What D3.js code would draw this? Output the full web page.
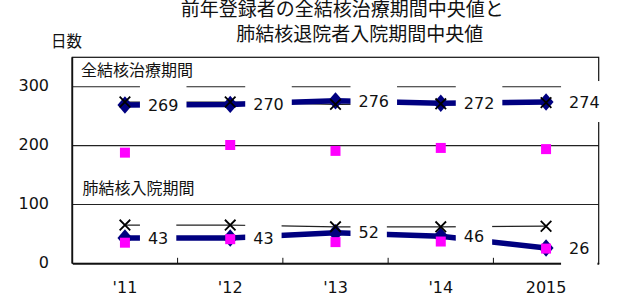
<!DOCTYPE html>
<html><head><meta charset="utf-8">
<script src="https://cdn.jsdelivr.net/npm/d3@7"></script>
<style>html,body{margin:0;padding:0;background:#fff;overflow:hidden}</style>
</head><body>
<svg id="c" width="630" height="293"></svg>
<script>
const categories = ["'11", "'12", "'13", "'14", "2015"];
// 全結核治療期間
const treatMedian = [269, 270, 276, 272, 274];
const treatCross  = [274, 274, 270, 271, 273];
const treatSquare = [188, 201, 191, 196, 194];
// 肺結核入院期間
const admitMedian = [43, 43, 52, 46, 26];
const admitCross  = [65, 65, 62, 62, 63];
const admitSquare = [35, 41, 36, 37, 25];
const yTicks = [0, 100, 200, 300];
const gridTicks = [100, 200, 300];
const titleLines = ["前年登録者の全結核治療期間中央値と", "肺結核退院者入院期間中央値"];

const svg = d3.select("#c");
const L = 72.3, R = 598.7, T = 57.3, B = 263.3;
const x = d3.scaleBand().domain(categories).range([L, R]);
const cx = d => x(d) + x.bandwidth() / 2;
const y = d3.scaleLinear().domain([0, 350]).range([B, T]);
const NUM = "'DejaVu Sans', sans-serif";
const JP = "'Noto Sans CJK JP', sans-serif";

// title
svg.append("text").attr("x", 180.7).attr("y", 16).attr("font-family", JP).attr("font-size", 19).attr("fill", "#111").text(titleLines[0]);
svg.append("text").attr("x", 236.3).attr("y", 40.5).attr("font-family", JP).attr("font-size", 19).attr("fill", "#111").text(titleLines[1]);
svg.append("text").attr("x", 51).attr("y", 46.7).attr("font-family", JP).attr("font-size", 15.5).attr("fill", "#111").text("日数");

// gridlines
svg.append("g").selectAll("line").data(gridTicks).join("line")
  .attr("x1", L).attr("x2", R).attr("y1", d => y(d)).attr("y2", d => y(d))
  .attr("stroke", "#222").attr("stroke-width", 1.1);

// plot border
svg.append("rect").attr("x", L).attr("y", T).attr("width", R - L).attr("height", B - T)
  .attr("fill", "none").attr("stroke", "#111").attr("stroke-width", 1.2);
svg.append("line").attr("x1", L).attr("x2", L).attr("y1", T).attr("y2", B).attr("stroke", "#111").attr("stroke-width", 1.8);

// x axis
const xAxis = d3.axisBottom(x).tickSize(0).tickPadding(0);
const gx = svg.append("g").attr("transform", `translate(0,${B})`).call(xAxis);
gx.select(".domain").attr("stroke", "#111").attr("stroke-width", 1.8);
gx.selectAll("text").attr("font-family", NUM).attr("font-size", 16).attr("fill", "#111")
  .attr("dy", null).attr("y", 29.7);
// boundary ticks
svg.append("g").selectAll("line").data(categories.slice(1)).join("line")
  .attr("x1", d => x(d)).attr("x2", d => x(d)).attr("y1", B).attr("y2", B - 5.5)
  .attr("stroke", "#111").attr("stroke-width", 1);

// y axis labels
const yAxis = d3.axisLeft(y).tickValues(yTicks).tickSize(0).tickPadding(0);
const gy = svg.append("g").attr("transform", `translate(49,0)`).call(yAxis);
gy.select(".domain").remove();
gy.selectAll("text").attr("font-family", NUM).attr("font-size", 16).attr("fill", "#111")
  .attr("dy", 4).attr("x", 0);

// group labels
svg.append("text").attr("x", 81).attr("y", 75.5).attr("font-family", JP).attr("font-size", 16).attr("fill", "#111").text("全結核治療期間");
svg.append("text").attr("x", 82.5).attr("y", 194).attr("font-family", JP).attr("font-size", 16).attr("fill", "#111").text("肺結核入院期間");

const diamond = { draw(ctx, size) { const w = 7.5, h = 8.7; ctx.moveTo(0, -h); ctx.lineTo(w, 0); ctx.lineTo(0, h); ctx.lineTo(-w, 0); ctx.closePath(); } };
const cross = { draw(ctx, size) { const r = 5.3; ctx.moveTo(-r, -r); ctx.lineTo(r, r); ctx.moveTo(r, -r); ctx.lineTo(-r, r); } };

const groups = [
  { med: treatMedian, crs: treatCross, sq: treatSquare },
  { med: admitMedian, crs: admitCross, sq: admitSquare }
];
const line = d3.line().x((d, i) => cx(categories[i])).y(d => y(d));

groups.forEach(g => {
  svg.append("path").attr("d", line(g.crs)).attr("fill", "none").attr("stroke", "#222").attr("stroke-width", 1.2);
  svg.append("path").attr("d", line(g.med)).attr("fill", "none").attr("stroke", "#000080").attr("stroke-width", 5.5);
});
groups.forEach(g => {
  svg.append("g").selectAll("path").data(g.med).join("path")
    .attr("transform", (d, i) => `translate(${cx(categories[i])},${y(d)})`)
    .attr("d", d3.symbol().type(diamond)()).attr("fill", "#000080");
  svg.append("g").selectAll("path").data(g.crs).join("path")
    .attr("transform", (d, i) => `translate(${cx(categories[i])},${y(d)})`)
    .attr("d", d3.symbol().type(cross)()).attr("fill", "none").attr("stroke", "#000").attr("stroke-width", 1.8);
  svg.append("g").selectAll("path").data(g.sq).join("path")
    .attr("transform", (d, i) => `translate(${cx(categories[i])},${y(d)})`)
    .attr("d", d3.symbol().type(d3.symbolSquare).size(100)()).attr("fill", "#ff00ff");
});

// data labels with white boxes
groups.forEach(g => {
  g.med.forEach((v, i) => {
    const px = cx(categories[i]), py = y(v);
    const gl = svg.append("g");
    const r = gl.append("rect").attr("fill", "#fff");
    const t = gl.append("text").attr("x", px + 23).attr("y", py + 5.7)
      .attr("font-family", NUM).attr("font-size", 16).attr("fill", "#111").text(v);
    const len = t.node().getComputedTextLength();
    r.attr("x", px + 15).attr("y", py - 21).attr("width", (px + 23 + len + 8) - (px + 15)).attr("height", 41);
  });
});
</script>
</body></html>
